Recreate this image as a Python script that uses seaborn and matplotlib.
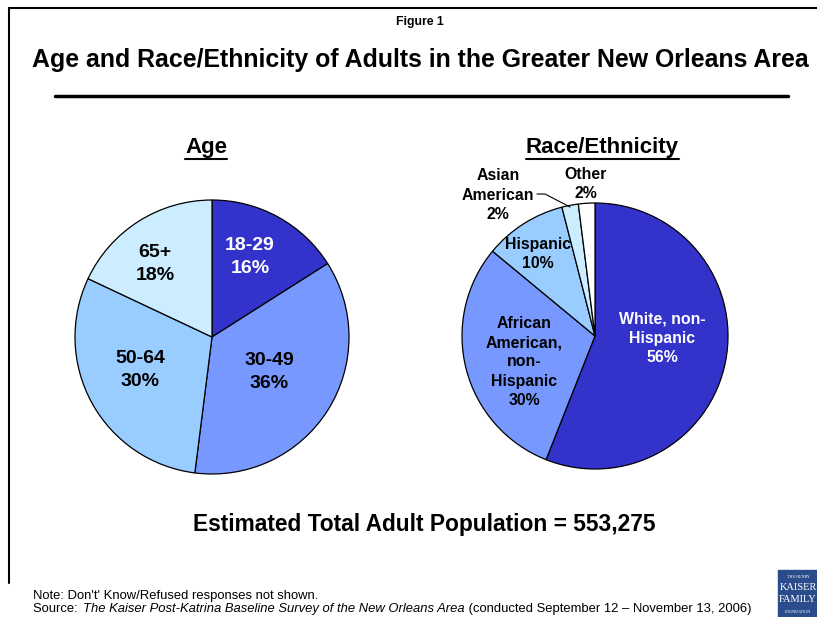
import matplotlib
matplotlib.use("Agg")
import matplotlib.pyplot as plt
import seaborn as sns
from matplotlib.lines import Line2D
from matplotlib.patches import Rectangle

# data
age_groups = ['18-29', '30-49', '50-64', '65+']
age_pct = [16, 36, 30, 18]

race_groups = ['White, non-\nHispanic', 'African\nAmerican,\nnon-\nHispanic', 'Hispanic', 'Asian\nAmerican', 'Other']
race_pct = [56, 30, 10, 2, 2]

total_pop = 553275

sns.set_theme(style="white")
plt.rcParams['font.family'] = ['Liberation Sans', 'DejaVu Sans']
plt.rcParams['text.color'] = 'black'

W, H = 817, 617
fig = plt.figure(figsize=(W / 100, H / 100), dpi=100)
fig.patch.set_facecolor('white')


def fx(px):
    return px / W


def fy(py):
    return 1 - py / H


# frame lines (top and left)
fig.add_artist(Line2D([fx(9), 1], [fy(8), fy(8)], color='black', lw=1.5))
fig.add_artist(Line2D([fx(9), fx(9)], [fy(8), fy(583)], color='black', lw=1.5))

fig.text(fx(420), fy(22), 'Figure 1', ha='center', va='center', fontsize=8.8, weight='bold')
fig.text(fx(420), fy(60), 'Age and Race/Ethnicity of Adults in the Greater New Orleans Area',
         ha='center', va='center', fontsize=17.9, weight='bold')
fig.add_artist(Line2D([fx(55), fx(788)], [fy(96), fy(96)], color='black', lw=2.5))

edge = dict(edgecolor='black', linewidth=0.9)

# Age pie
cx, cy, r = 212, 337, 137
ax1 = fig.add_axes([fx(cx - r), fy(cy + r), 2 * r / W, 2 * r / H])
age_colors = ['#3333CC', '#7799FF', '#99CCFF', '#CCECFF']
ax1.pie(age_pct, colors=age_colors, startangle=90, counterclock=False,
        wedgeprops=edge, radius=1)
ax1.set_xlim(-1, 1)
ax1.set_ylim(-1, 1)
ax1.set_aspect('equal')
ax1.axis('off')

age_pos = [(250, 257), (269, 372), (140, 370), (155, 264)]
age_txt_col = ['white', 'black', 'black', 'black']
for g, p, (px, py), c in zip(age_groups, age_pct, age_pos, age_txt_col):
    ax1.text((px - cx) / r, (cy - py) / r, f'{g}\n{p}%', ha='center', va='center',
             fontsize=14, weight='bold', color=c, linespacing=1.4)

# Race pie
cx2, cy2, r2 = 595, 336, 133
ax2 = fig.add_axes([fx(cx2 - r2), fy(cy2 + r2), 2 * r2 / W, 2 * r2 / H])
race_colors = ['#3333CC', '#7799FF', '#99CCFF', '#CCECFF', '#FFFFFF']
ax2.pie(race_pct, colors=race_colors, startangle=90, counterclock=False,
        wedgeprops=edge, radius=1)
ax2.set_xlim(-1, 1)
ax2.set_ylim(-1, 1)
ax2.set_aspect('equal')
ax2.axis('off')

race_pos = [(662, 338), (524, 362), (538, 254), (498, 195), (586, 184)]
race_txt_col = ['white', 'black', 'black', 'black', 'black']
for g, p, (px, py), c in zip(race_groups, race_pct, race_pos, race_txt_col):
    ax2.text((px - cx2) / r2, (cy2 - py) / r2, f'{g}\n{p}%', ha='center', va='center',
             fontsize=11.4, weight='bold', color=c, linespacing=1.35, clip_on=False)

# leader line for Asian American
lx = [537, 545, 570]
ly = [194, 194, 207]
ax2.plot([(x - cx2) / r2 for x in lx], [(cy2 - y) / r2 for y in ly],
         color='black', lw=0.8, clip_on=False)

# underlined sub titles
heads = []
heads.append(fig.text(fx(206), fy(147), 'Age', ha='center', va='center', fontsize=16, weight='bold'))
heads.append(fig.text(fx(602), fy(147), 'Race/Ethnicity', ha='center', va='center', fontsize=16, weight='bold'))

fig.text(fx(424), fy(524), f'Estimated Total Adult Population = {total_pop:,}',
         ha='center', va='center', fontsize=16.4, weight='bold')

fs_note = 9.4
fig.text(fx(33), fy(596), "Note: Don't' Know/Refused responses not shown.",
         ha='left', va='center', fontsize=fs_note)
src_parts = [("Source: ", 'normal'),
             ("The Kaiser Post-Katrina Baseline Survey of the New Orleans Area", 'italic'),
             (" (conducted September 12 \u2013 November 13, 2006)", 'normal')]

# logo block
fig.add_artist(Rectangle((fx(778), 0), 1 - fx(778), fy(570), color='#2B4C8C',
                         transform=fig.transFigure))
fig.text(fx(798), fy(577), 'THE HENRY', color='white', fontsize=3, ha='center', va='center',
         family='Liberation Serif')
fig.text(fx(798), fy(587), 'KAISER', color='white', fontsize=7.5, ha='center', va='center',
         family='Liberation Serif')
fig.text(fx(798), fy(600), 'FAMILY', color='white', fontsize=7.5, ha='center', va='center',
         family='Liberation Serif')
fig.text(fx(798), fy(612), 'FOUNDATION', color='white', fontsize=3, ha='center', va='center',
         family='Liberation Serif')

fig.canvas.draw()
rend = fig.canvas.get_renderer()

# source line in pieces so the survey title can be italic
xpos = 33
for s, st in src_parts:
    t = fig.text(fx(xpos), fy(609), s, ha='left', va='center', fontsize=fs_note, style=st)
    bb = t.get_window_extent(renderer=rend)
    xpos += bb.width
    if s.endswith(' '):
        xpos += 2

for t in heads:
    bb = t.get_window_extent(renderer=rend)
    yl = bb.y0 - 1
    fig.add_artist(Line2D([bb.x0 / W, bb.x1 / W], [yl / H, yl / H], color='black', lw=1.5))

fig.savefig('out.png', dpi=100)
